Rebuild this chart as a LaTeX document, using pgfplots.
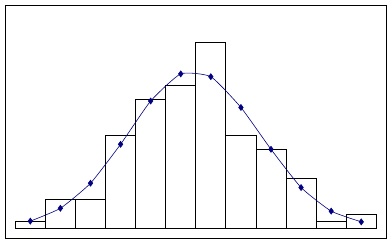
\documentclass[border=0pt]{standalone}
\usepackage{pgfplots}
\pgfplotsset{compat=1.18}
\definecolor{navy}{HTML}{000080}
\begin{document}
\begin{tikzpicture}
\useasboundingbox (-5.3bp,-5bp) rectangle (386.7bp,238bp);
\begin{axis}[
  at={(0,0)}, anchor=south west,
  scale only axis,
  width=381bp, height=232.7bp,
  xmin=-0.332, xmax=12.333,
  ymin=-1.36, ymax=31.19,
  xtick=\empty, ytick=\empty,
  axis line style={line width=0.9bp, black},
  clip=false,
]
\addplot[ybar, bar width=1, bar shift=0pt, draw=black, fill=white, line width=0.9bp]
coordinates {
(0.5,1) (1.5,4) (2.5,4) (3.5,13) (4.5,18) (5.5,20)
(6.5,26) (7.5,13) (8.5,11) (9.5,7) (10.5,1) (11.5,2)
};
\addplot[navy, line width=0.6bp, smooth, tension=0.3, mark=diamond*, mark size=3bp, mark options={fill=navy, draw=navy, solid}]
coordinates {
(0.5,1.0) (1.5,2.8) (2.5,6.3) (3.5,11.75) (4.5,17.8) (5.5,21.6)
(6.5,21.2) (7.5,16.9) (8.5,11.05) (9.5,5.7) (10.5,2.4) (11.5,0.9)
};
\end{axis}
\end{tikzpicture}
\end{document}
